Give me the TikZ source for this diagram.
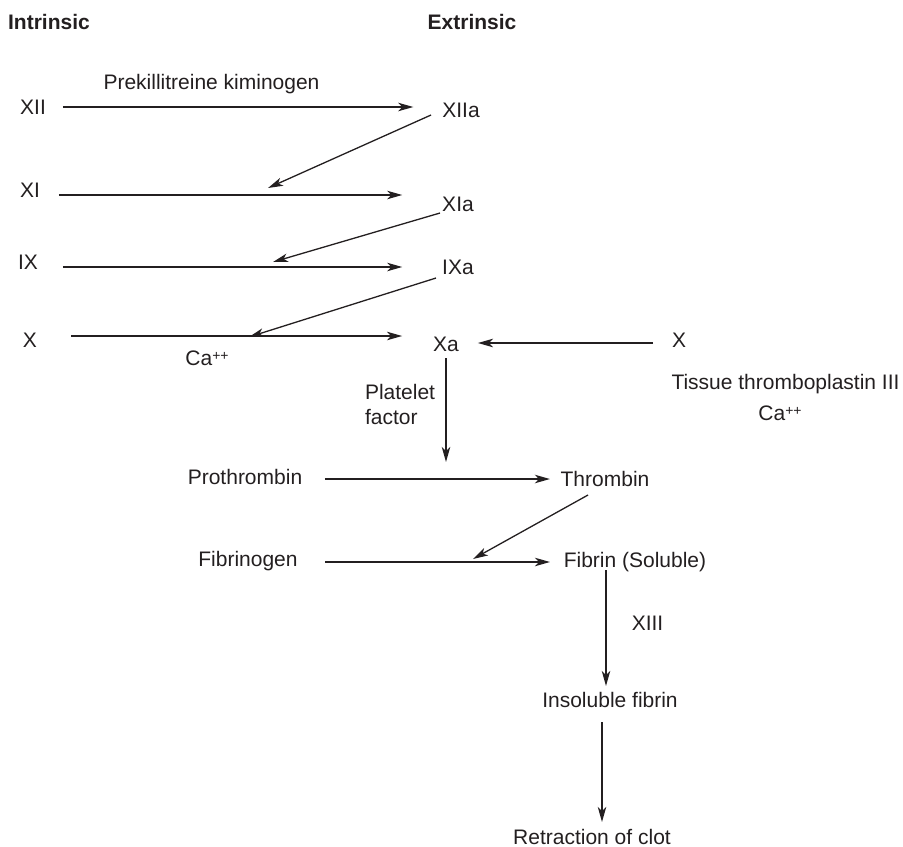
\documentclass[tikz,border=0pt]{standalone}
\usepackage{fontspec}
\setmainfont{Liberation Sans}
\usepackage{xcolor}
\usepackage{tikz}
\usetikzlibrary{arrows.meta}
\definecolor{ink}{HTML}{231F20}
\newcommand{\calcium}{Ca{\fontsize{7}{7}\selectfont\raisebox{2.3pt}{++}}}

\begin{document}
\begin{tikzpicture}[x=0.5pt,y=-0.5pt,
  every node/.style={font=\fontsize{10.5}{12.5}\selectfont, text=ink, inner sep=0pt, outer sep=0pt, text height=7.5pt, text depth=0pt},
  head/.style={font=\fontsize{10.5}{12.5}\selectfont\bfseries},
  flow/.style={draw=ink, line width=1pt, -{Stealth[length=7.5pt,width=4.2pt,inset=2pt]}},
  feed/.style={draw=ink, line width=0.65pt, -{Stealth[length=7.5pt,width=4.2pt,inset=2pt]}}]
  \useasboundingbox (0,0) rectangle (903,846);
  \node[head] (intr) at (49,22) {Intrinsic};
  \node[head] (extr) at (472,22) {Extrinsic};
  \node (kin) at (211.5,82) {Prekillitreine kiminogen};
  \node (XII) at (33,107) {XII};
  \node (XIIa) at (461,110) {XIIa};
  \node (XI) at (30,190) {XI};
  \node (XIa) at (458,204) {XIa};
  \node (IX) at (28,262) {IX};
  \node (IXa) at (458,267) {IXa};
  \node (X) at (30,340) {X};
  \node (Xa) at (446,344) {Xa};
  \node (Xext) at (679,340) {X};
  \node (ca1) at (207,358) {\calcium};
  \node (tissue) at (785.5,382) {Tissue thromboplastin III};
  \node (ca2) at (780,413) {\calcium};
  \node[anchor=west, align=left, text height=, text depth=] (plt) at (365,404.5) {Platelet\\factor};
  \node (proth) at (245,477) {Prothrombin};
  \node (thromb) at (605,479) {Thrombin};
  \node (fibgen) at (248,559) {Fibrinogen};
  \node (fibsol) at (635,560) {Fibrin (Soluble)};
  \node (XIII) at (647.5,623) {XIII};
  \node (fibins) at (610,700) {Insoluble fibrin};
  \node (clot) at (592,837) {Retraction of clot};
  \coordinate (xi-cut) at (268,188);
  \coordinate (ix-cut) at (273,262);
  \coordinate (x-cut) at (249,337);
  \coordinate (proth-cut) at (446,462);
  \coordinate (fib-cut) at (473,559);
  \draw[flow] ([shift={(8.5pt,0pt)}]XII.east) -- ([shift={(-14.5pt,1.5pt)}]XIIa.west);
  \draw[feed] ([shift={(-5.65pt,-2.5pt)}]XIIa.west) -- (xi-cut);
  \draw[flow] ([shift={(9.5pt,-2.5pt)}]XI.east) -- ([shift={(-20pt,4.5pt)}]XIa.west);
  \draw[feed] ([shift={(-1.1pt,-4.5pt)}]XIa.west) -- (ix-cut);
  \draw[flow] ([shift={(12.5pt,-2.5pt)}]IX.east) -- ([shift={(-20pt,0pt)}]IXa.west);
  \draw[feed] ([shift={(-3.1pt,-5.5pt)}]IXa.west) -- (x-cut);
  \draw[flow] ([shift={(17pt,2pt)}]X.east) -- ([shift={(-15.5pt,4pt)}]Xa.west);
  \draw[flow] ([shift={(-9.5pt,-1.5pt)}]Xext.west) -- ([shift={(9.5pt,0.5pt)}]Xa.east);
  \draw[flow] ([yshift=-3.25pt]Xa.south) -- (proth-cut);
  \draw[flow] ([shift={(11.4pt,-1pt)}]proth.east) -- ([shift={(-5.35pt,0pt)}]thromb.west);
  \draw[feed] ([shift={(-8.5pt,-4.25pt)}]thromb.south) -- (fib-cut);
  \draw[flow] ([shift={(13.7pt,-1.5pt)}]fibgen.east) -- ([shift={(-6.9pt,-1pt)}]fibsol.west);
  \draw[flow] ([shift={(-14.5pt,-1.25pt)}]fibsol.south) -- ([shift={(-2pt,3.25pt)}]fibins.north);
  \draw[flow] ([shift={(-4pt,-7.25pt)}]fibins.south) -- ([shift={(5pt,3.75pt)}]clot.north);
\end{tikzpicture}
\end{document}
